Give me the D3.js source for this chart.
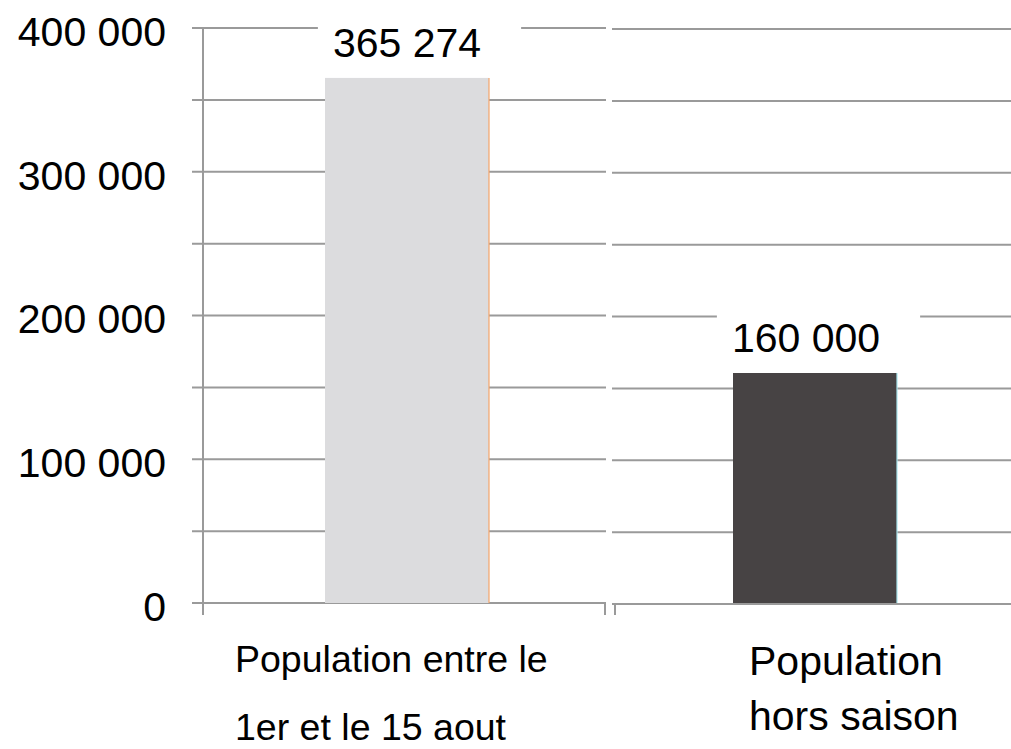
<!DOCTYPE html>
<html>
<head>
<meta charset="utf-8">
<script src="https://cdn.jsdelivr.net/npm/d3@7"></script>
<style>
  html, body { margin: 0; padding: 0; background: #fff; }
  svg { display: block; font-family: "Liberation Sans", Arial, sans-serif; }
</style>
</head>
<body>
<svg id="chart" width="1011" height="749"></svg>
<script>
const categories = ["Population entre le 1er et le 15 aout", "Population hors saison"];
const categoryLines = [["Population entre le", "1er et le 15 aout"], ["Population", "hors saison"]];
const values = [365274, 160000];
const valueLabels = ["365 274", "160 000"];
const yTicks = [0, 50000, 100000, 150000, 200000, 250000, 300000, 350000, 400000];
const yTickLabels = ["0", "", "100 000", "", "200 000", "", "300 000", "", "400 000"];

const W = 1011, H = 749;
const svg = d3.select("#chart");
const y = d3.scaleLinear().domain([0, 400000]).range([603, 28]);
const x = d3.scaleBand().domain(categories).range([203, 1019]).paddingInner(0).paddingOuter(0);
const barW = 164;
const gridColor = "#9a9a9a";

// gridlines, in two segments (one per category band)
const b1 = x(categories[1]);
const grid = svg.append("g");
yTicks.forEach(t => {
  grid.append("line").attr("x1", 192).attr("x2", b1 - 5)
    .attr("y1", y(t)).attr("y2", y(t))
    .attr("stroke", gridColor).attr("stroke-width", 2);
  grid.append("line").attr("x1", b1 + 1).attr("x2", W)
    .attr("y1", y(t) + 1).attr("y2", y(t) + 1)
    .attr("stroke", gridColor).attr("stroke-width", 2);
});

// y axis line
svg.append("line").attr("x1", 203).attr("x2", 203)
  .attr("y1", y(400000)).attr("y2", y(0) + 12)
  .attr("stroke", gridColor).attr("stroke-width", 2);

// category boundary ticks
[b1 - 6, b1 + 4].forEach(px => {
  svg.append("line").attr("x1", px).attr("x2", px)
    .attr("y1", y(0)).attr("y2", y(0) + 12)
    .attr("stroke", gridColor).attr("stroke-width", 2);
});

// y tick labels
const yAxis = d3.axisLeft(y).tickValues(yTicks)
  .tickFormat((d, i) => yTickLabels[i]).tickSize(0).tickPadding(0);
const gy = svg.append("g").attr("transform", "translate(166,0)").call(yAxis);
gy.select(".domain").remove();
gy.selectAll("text").attr("font-size", 41).attr("fill", "#000")
  .attr("font-family", "'Liberation Sans', Arial, sans-serif")
  .attr("dy", "0.35em").attr("y", 3);

// bars
const barFills = ["#dcdcde", "#474344"];
const barEdges = ["#f4a46a", "#a8e6ef"];
categories.forEach((c, i) => {
  const bx = x(c) + x.bandwidth() / 2 - barW / 2;
  svg.append("rect").attr("x", bx).attr("y", y(values[i]))
    .attr("width", barW).attr("height", y(0) - y(values[i]))
    .attr("fill", barFills[i]);
  svg.append("line").attr("x1", bx + barW).attr("x2", bx + barW)
    .attr("y1", y(values[i])).attr("y2", y(0))
    .attr("stroke", barEdges[i]).attr("stroke-width", 1.2);
});

// value labels with white background
const labelDx = [0, -9];
categories.forEach((c, i) => {
  const cx = x(c) + x.bandwidth() / 2 + labelDx[i];
  const g = svg.append("g");
  const bg = g.append("rect").attr("fill", "#fff");
  const t = g.append("text").attr("x", cx).attr("y", y(values[i]) - 21)
    .attr("text-anchor", "middle").attr("font-size", 41).attr("fill", "#000")
    .text(valueLabels[i]);
  const bb = t.node().getBBox();
  bg.attr("x", bb.x - 15).attr("y", bb.y).attr("width", bb.width + 55).attr("height", bb.height);
});

// category labels
const catFont = [37.5, 41];
const catDx = [32, 138];
const catBase = [[672, 740], [675, 730]];
categories.forEach((c, i) => {
  categoryLines[i].forEach((line, j) => {
    svg.append("text").attr("x", x(c) + catDx[i]).attr("y", catBase[i][j])
      .attr("font-size", catFont[i]).attr("fill", "#000").text(line);
  });
});
</script>
</body>
</html>
